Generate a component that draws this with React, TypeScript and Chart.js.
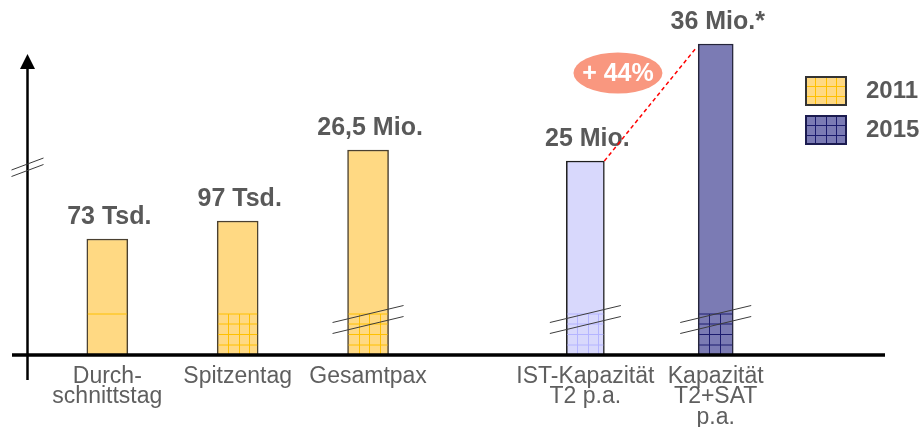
import React, { useEffect, useRef } from 'react';
import { Chart, registerables } from 'chart.js';

Chart.register(...registerables);

const FONT = "'Liberation Sans', Arial, Helvetica, sans-serif";

// ---- data -------------------------------------------------------------
const categoryLabels: string[][] = [
  ['Durch-', 'schnittstag'],
  ['Spitzentag'],
  ['Gesamtpax'],
  ['IST-Kapazität', 'T2 p.a.'],
  ['Kapazität', 'T2+SAT', 'p.a.'],
];
// slot index of each category on the (gapped) category axis
const categorySlots = [0, 3, 6, 11, 14];
// drawn bar heights (axis is broken, so heights are schematic)
const heights2011 = [116, 134, 205];
const heightsIst = [194];
const heights2015 = [311];
const valueLabels = ['73 Tsd.', '97 Tsd.', '26,5 Mio.', '25 Mio.', '36 Mio.*'];
const seriesNames = ['2011', 'IST-Kapazität', '2015'];
const growthLabel = '+ 44%';

// ---- styles -----------------------------------------------------------
const fills = ['#FFD983', '#D8D8FC', '#7B7BB4'];
const borders = ['#4a4030', '#1e1e1e', '#24243a'];
const gridLines = ['#FFC000', '#B4B4FF', '#1c1c6e'];
const thickness = [41, 38, 35];

function swatch(fill: string, line: string, border: string) {
  const c = document.createElement('canvas');
  c.width = 42;
  c.height = 30;
  const g = c.getContext('2d')!;
  g.fillStyle = fill;
  g.fillRect(0, 0, 42, 30);
  g.strokeStyle = line;
  g.lineWidth = 1;
  [10.5, 21.5, 31.5].forEach((x) => {
    g.beginPath();
    g.moveTo(x, 0);
    g.lineTo(x, 30);
    g.stroke();
  });
  [10.5, 20.5].forEach((y) => {
    g.beginPath();
    g.moveTo(0, y);
    g.lineTo(42, y);
    g.stroke();
  });
  g.strokeStyle = border;
  g.lineWidth = 2;
  g.strokeRect(1, 1, 40, 28);
  return c;
}

const overlayPlugin = {
  id: 'overlay',
  afterDatasetsDraw(chart: any) {
    const ctx: CanvasRenderingContext2D = chart.ctx;
    const ys = chart.scales.y;
    const area = chart.chartArea;
    const bars: { p: any; di: number }[] = [];
    chart.data.datasets.forEach((_: any, di: number) => {
      chart.getDatasetMeta(di).data.forEach((el: any) => {
        bars.push({ p: el.getProps(['x', 'y', 'base', 'width'], true), di });
      });
    });
    const base = ys.getPixelForValue(0);
    ctx.save();

    // grid texture in the lower part of the bars
    bars.forEach(({ p, di }, i) => {
      const left = p.x - p.width / 2 + 1;
      const right = p.x + p.width / 2 - 1;
      const top = ys.getPixelForValue(41);
      ctx.strokeStyle = gridLines[di];
      ctx.lineWidth = 1;
      ctx.beginPath();
      ctx.moveTo(left, top);
      ctx.lineTo(right, top);
      if (i > 0) {
        for (let j = 1; j <= 3; j++) {
          const y = base - 10.5 * j + 0.5;
          ctx.moveTo(left, y);
          ctx.lineTo(right, y);
        }
        for (let x = left + 10; x < right - 2; x += 10.5) {
          ctx.moveTo(Math.round(x) + 0.5, top);
          ctx.lineTo(Math.round(x) + 0.5, base);
        }
      }
      ctx.stroke();
    });

    // break marks on the tall bars
    ctx.strokeStyle = '#3c3c3c';
    ctx.lineWidth = 1;
    bars.forEach(({ p }, i) => {
      if (i < 2) return;
      [41, 30].forEach((v) => {
        const y = ys.getPixelForValue(v);
        ctx.beginPath();
        ctx.moveTo(p.x - 35.5, y + 8.5);
        ctx.lineTo(p.x + 35.5, y - 8.5);
        ctx.stroke();
      });
    });

    // y axis with arrow
    const ax = area.left - 0.5;
    const tip = ys.getPixelForValue(301);
    ctx.strokeStyle = '#000';
    ctx.fillStyle = '#000';
    ctx.lineWidth = 2.5;
    ctx.beginPath();
    ctx.moveTo(ax, tip + 12);
    ctx.lineTo(ax, base + 25);
    ctx.stroke();
    ctx.beginPath();
    ctx.moveTo(ax, tip);
    ctx.lineTo(ax - 7.5, tip + 15);
    ctx.lineTo(ax + 7.5, tip + 15);
    ctx.closePath();
    ctx.fill();
    // break on y axis
    ctx.strokeStyle = '#3c3c3c';
    ctx.lineWidth = 1;
    [191, 184.5].forEach((v) => {
      const y = ys.getPixelForValue(v);
      ctx.beginPath();
      ctx.moveTo(ax - 16, y + 6);
      ctx.lineTo(ax + 16, y - 6);
      ctx.stroke();
    });

    // x axis
    ctx.strokeStyle = '#000';
    ctx.lineWidth = 3.5;
    ctx.beginPath();
    ctx.moveTo(area.left - 16, base);
    ctx.lineTo(area.right + 102, base);
    ctx.stroke();

    // value labels
    ctx.font = `bold 25px ${FONT}`;
    ctx.fillStyle = '#595959';
    ctx.textAlign = 'center';
    ctx.textBaseline = 'alphabetic';
    bars.forEach(({ p }, i) => {
      ctx.fillText(valueLabels[i], p.x + 2, p.y - 15);
    });

    // growth annotation
    const b4 = bars[3].p;
    const b5 = bars[4].p;
    ctx.strokeStyle = '#FF0000';
    ctx.lineWidth = 1.5;
    ctx.setLineDash([4, 3]);
    ctx.beginPath();
    ctx.moveTo(b4.x + b4.width / 2, b4.y);
    ctx.lineTo(b5.x - b5.width / 2 - 3, b5.y + 5);
    ctx.stroke();
    ctx.setLineDash([]);
    const ex = b4.x + 0.25 * (b5.x - b4.x);
    const ey = ys.getPixelForValue(282);
    ctx.fillStyle = '#F9977F';
    ctx.beginPath();
    ctx.ellipse(ex, ey, 44.5, 20.5, 0, 0, Math.PI * 2);
    ctx.fill();
    ctx.fillStyle = '#FFFFFF';
    ctx.font = `bold 25px ${FONT}`;
    ctx.textBaseline = 'middle';
    ctx.fillText(growthLabel, ex, ey + 1);
    ctx.restore();
  },
};

export default function App() {
  const ref = useRef<HTMLCanvasElement | null>(null);

  useEffect(() => {
    if (!ref.current) return;
    const swatches: Record<number, HTMLCanvasElement> = {
      0: swatch(fills[0], gridLines[0], '#333333'),
      2: swatch(fills[2], gridLines[2], '#1c1c50'),
    };
    const groups = [heights2011, heightsIst, heights2015];
    let offset = 0;
    const datasets = groups.map((vals, di) => {
      const data = vals.map((v, i) => ({ x: categorySlots[offset + i], y: v }));
      offset += vals.length;
      return {
        label: seriesNames[di],
        data,
        backgroundColor: fills[di],
        borderColor: borders[di],
        borderWidth: 1.5,
        barThickness: thickness[di],
      };
    });

    const chart = new Chart(ref.current, {
      type: 'bar',
      data: { datasets } as any,
      plugins: [overlayPlugin],
      options: {
        animation: false,
        responsive: false,
        events: [],
        layout: { padding: { top: 30, left: 28, right: 0, bottom: 5 } },
        datasets: { bar: { grouped: false } } as any,
        scales: {
          x: {
            type: 'linear',
            min: -1.825,
            max: 15.548,
            offset: false,
            grid: { display: false, drawTicks: false },
            border: { display: false },
            afterBuildTicks: (scale: any) => {
              scale.ticks = categorySlots.map((v) => ({ value: v }));
            },
            afterFit: (scale: any) => {
              scale.paddingLeft = 0;
              scale.paddingRight = 0;
              scale.height = 72;
            },
            ticks: {
              autoSkip: false,
              maxRotation: 0,
              padding: 11,
              color: '#5f5f5f',
              font: { family: FONT, size: 23, lineHeight: '20.5px' } as any,
              callback: (_v: any, i: number) => categoryLabels[i],
            },
          },
          y: {
            min: 0,
            max: 325,
            display: false,
          },
        },
        plugins: {
          tooltip: { enabled: false },
          legend: {
            position: 'right',
            align: 'start',
            maxWidth: 141,
            title: { display: true, text: '', font: { size: 10, lineHeight: 1 }, padding: { top: 24, bottom: 0 } },
            labels: {
              usePointStyle: true,
              pointStyleWidth: 56,
              padding: 15,
              color: '#595959',
              font: { family: FONT, size: 24, weight: 'bold' },
              generateLabels: (c: any) =>
                [0, 2].map((i) => ({
                  text: c.data.datasets[i].label,
                  pointStyle: swatches[i],
                  fillStyle: fills[i],
                  strokeStyle: '#333',
                  lineWidth: 0,
                  hidden: false,
                  datasetIndex: i,
                  fontColor: '#595959',
                })),
            },
          },
        },
      } as any,
    });
    return () => chart.destroy();
  }, []);

  return (
    <div style={{ position: 'absolute', left: 0, top: 0, width: 924, height: 432, background: '#fff' }}>
      <canvas ref={ref} width={924} height={432} style={{ display: 'block' }} />
    </div>
  );
}
